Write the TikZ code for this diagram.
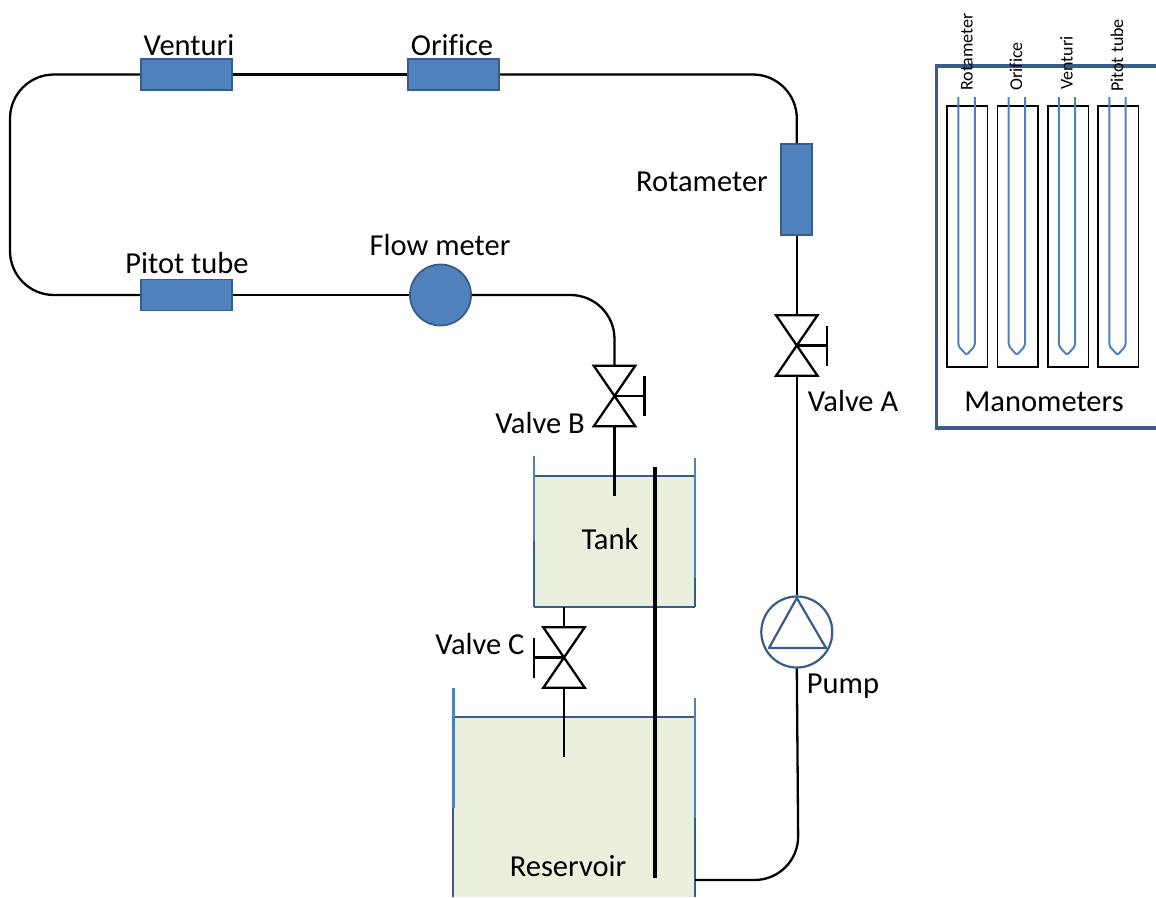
\documentclass[tikz,border=0pt]{standalone}
\usepackage{fontspec}
\setmainfont[Ligatures=NoCommon]{Carlito}
\definecolor{meterblue}{HTML}{4F81BD}
\definecolor{darkedge}{HTML}{385D8A}
\definecolor{liquid}{HTML}{EBEFDE}
\tikzset{
  pipe/.style={draw=black,line width=2.3pt},
  meter/.style={draw=darkedge,fill=meterblue,line width=1.8pt,inner sep=0pt},
  valvebox/.style={inner sep=0pt,minimum width=41pt,minimum height=60pt},
  sym/.style={draw=black,line width=2.3pt,line join=miter},
  lab/.style={font=\fontsize{30.5}{33}\selectfont,text=black,inner sep=0pt},
  smalllab/.style={font=\fontsize{18}{20}\selectfont,text=black,inner sep=0pt,rotate=90,anchor=west},
  wall/.style={draw=meterblue,line width=2.3pt},
  wallb/.style={draw=darkedge,line width=2.3pt},
  gauge/.style={draw=black,line width=1.5pt,inner sep=0pt,minimum width=40.5pt,minimum height=261pt},
  utube/.style={draw=meterblue,line width=2pt,line join=round},
  panel/.style={draw=darkedge,line width=3.2pt,line join=miter}
}
\begin{document}
\begin{tikzpicture}[x=1pt,y=-1pt]
\useasboundingbox (0,0) rectangle (1156,897);
% tanks
\node[fill=liquid,inner sep=0pt,minimum width=161pt,minimum height=131pt] (tank) at (614.5,541.5) {};
\node[fill=liquid,inner sep=0pt,minimum width=241.5pt,minimum height=180pt] (res) at (574.25,807) {};
\draw[wallb] (tank.north west) -- (tank.north east);
\draw[wallb] (tank.south west) -- (tank.south east);
\draw[wallb] (tank.south west) -- (tank.north west);
\draw[wallb] (tank.south east) -- (tank.north east);
\coordinate (tankL) at (534,456);
\coordinate (tankLm) at (534,541);
\coordinate (tankR) at (695,458);
\coordinate (tankRm) at (695,578);
\draw[wall] (tankLm) -- (tankL);
\draw[wall] (tankRm) -- (tankR);
\coordinate (resL) at (453.5,688);
\coordinate (resR) at (695,698);
\draw[wallb] (res.south west) -- (res.north west);
\draw[wallb] (res.south east) -- (res.north east);
\draw[wallb] (res.north west) -- (res.north east);
\coordinate (resLm) at (453.5,808);
\coordinate (resRm) at (695,818);
\draw[wall] (resLm) -- (resL);
\draw[wall] (resRm) -- (resR);
% components
\node[meter,minimum width=91pt,minimum height=31pt] (venturi) at (186.5,74.5) {};
\node[meter,minimum width=91pt,minimum height=31pt] (orifice) at (453.5,74.5) {};
\node[meter,minimum width=91pt,minimum height=31pt] (pitot) at (186.5,295) {};
\node[meter,minimum width=31pt,minimum height=91pt] (rota) at (796.8,189.5) {};
\node[meter,circle,minimum size=61pt] (flow) at (440.5,295) {};
\node[valvebox] (va) at (796.8,345.5) {};
\node[valvebox] (vb) at (614.5,396) {};
\node[valvebox] (vc) at (564,657.5) {};
\node[circle,draw=darkedge,line width=2.2pt,minimum size=71pt,inner sep=0pt] (pump) at (796.8,632) {};
% pipes
\coordinate (cTL) at (10,74.5);
\coordinate (cBL) at (10,295);
\coordinate (cTR) at (796.8,74.5);
\coordinate (cB) at (614.5,295);
\coordinate (cRes) at (798.5,880);
\coordinate (outlet) at (695,880);
\coordinate (tankIn) at (614.5,496);
\coordinate (resIn) at (564,757);
\draw[pipe] (venturi.east) -- (orifice.west);
\draw[pipe,rounded corners=44pt] (venturi.west) -- (cTL) -- (cBL) -- (pitot.west);
\draw[pipe] (pitot.east) -- (flow.west);
\draw[pipe,rounded corners=44pt] (orifice.east) -- (cTR) -- (rota.north);
\draw[pipe] (rota.south) -- (va.north);
\draw[pipe] (va.south) -- (pump.north);
\draw[pipe,rounded corners=44pt] (flow.east) -- (cB) -- (vb.north);
\draw[pipe] (vb.south) -- (tankIn);
\draw[pipe] (tank.south -| vc.north) -- (vc.north);
\draw[pipe] (vc.south) -- (resIn);
\draw[pipe,rounded corners=44pt] (outlet) -- (cRes) -- (pump.south);
\draw[line width=2.8pt] (outlet) -- ++(50,0);
% valves
\draw[sym] (va.north west) -- (va.north east) -- (va.south west) -- (va.south east) -- cycle;
\draw[sym] (vb.north west) -- (vb.north east) -- (vb.south west) -- (vb.south east) -- cycle;
\draw[sym] (vc.north west) -- (vc.north east) -- (vc.south west) -- (vc.south east) -- cycle;
\draw[sym] (va.center) -- ++(30,0) ++(0,-20) -- ++(0,40);
\draw[sym] (vb.center) -- ++(30,0) ++(0,-20) -- ++(0,40);
\draw[sym] (vc.center) -- ++(-30,0) ++(0,-20) -- ++(0,40);
% pump triangle
\coordinate (pa) at (796.8,598);
\coordinate (pb) at (769,648);
\coordinate (pc) at (826,648);
\draw[draw=darkedge,line width=2.2pt,line join=round] (pa) -- (pb) -- (pc) -- cycle;
% divider
\coordinate (divT) at (655,467);
\coordinate (divB) at (655,878);
\draw[line width=4pt] (divT) -- (divB);
% manometer panel
\coordinate (pnA) at (1156,66);
\coordinate (pnB) at (936.5,66);
\coordinate (pnC) at (936.5,428);
\coordinate (pnD) at (1156,428);
\draw[panel] (pnA) -- (pnB) -- (pnC) -- (pnD);
\node[gauge] (g1) at (967.2,236.5) {};
\node[gauge] (g2) at (1017.7,236.5) {};
\node[gauge] (g3) at (1068,236.5) {};
\node[gauge] (g4) at (1118.3,236.5) {};
\foreach \g/\a/\b in {g1/958.3/974.8,g2/1008.7/1025,g3/1058.8/1075.2,g4/1109.3/1125.6}{
  \draw[utube,rounded corners=2pt] (\a,97) -- (\a,346) -- ({(\a+\b)/2},355) -- (\b,346) -- (\b,97);
}
% labels
\node[smalllab] (t1) at (967,91) {Rotameter};
\node[smalllab] (t2) at (1016,91) {Orifice};
\node[smalllab] (t3) at (1066.5,90) {Venturi};
\node[smalllab] (t4) at (1117,92) {Pitot tube};
\node[lab] (l1) at (189,45.5) {Venturi};
\node[lab] (l2) at (452,45) {Orifice};
\node[lab] (l3) at (187,263) {Pitot tube};
\node[lab] (l4) at (440,245) {Flow meter};
\node[lab] (l5) at (702,182) {Rotameter};
\node[lab] (l6) at (853,401) {Valve A};
\node[lab] (l7) at (540,423) {Valve B};
\node[lab] (l8) at (480,644) {Valve C};
\node[lab] (l9) at (843,686) {Pump};
\node[lab] (l10) at (610,539) {Tank};
\node[lab] (l11) at (568,866) {Reservoir};
\node[lab] (l12) at (1044,401.5) {Manometers};
\end{tikzpicture}
\end{document}
